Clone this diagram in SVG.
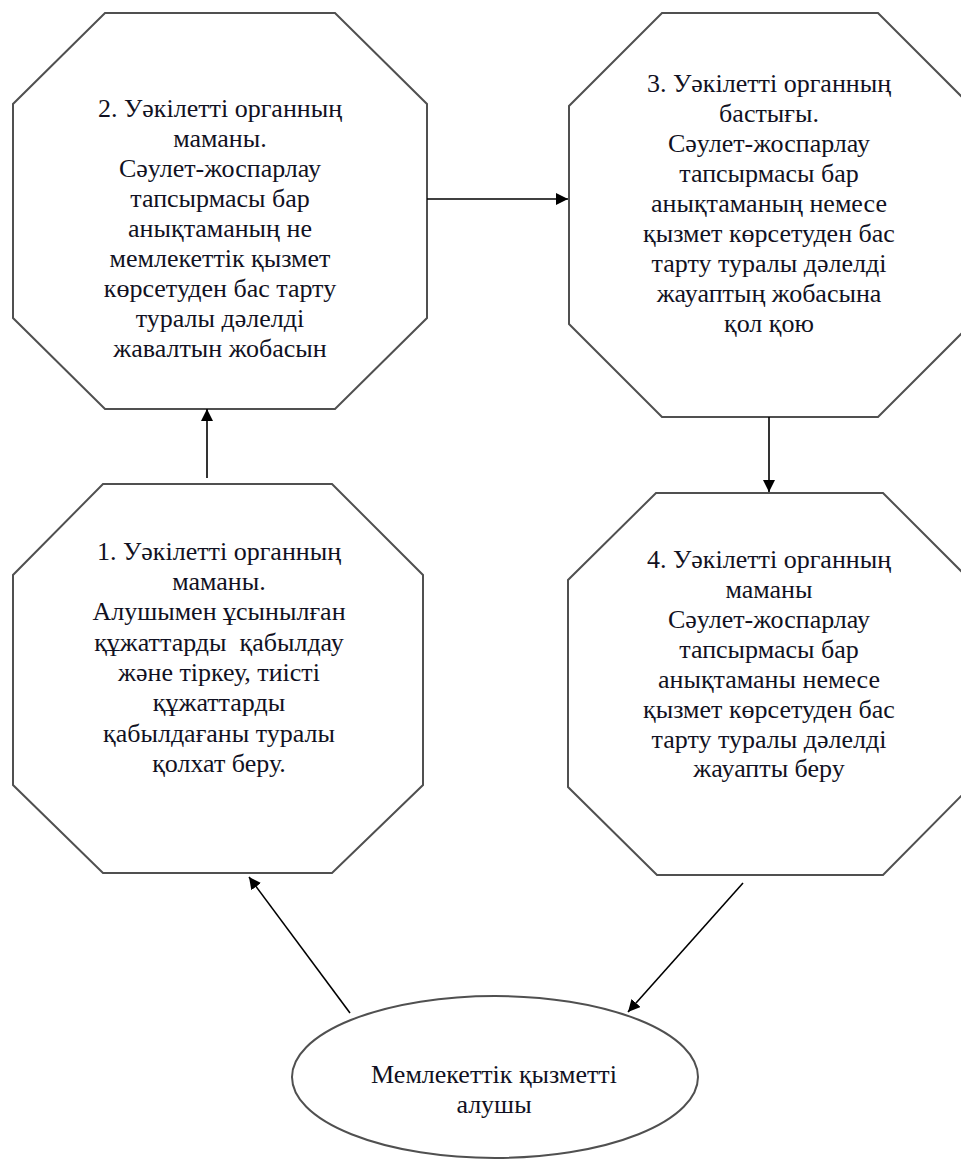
<svg xmlns="http://www.w3.org/2000/svg" width="961" height="1163" viewBox="0 0 961 1163">
  <style>
    .shape { fill: #ffffff; stroke: #505050; stroke-width: 2; }
    .lbl { font-family: 'Liberation Serif', 'DejaVu Serif', serif; font-size: 26px; fill: #111122; text-anchor: middle; }
    .conn { stroke: #000000; stroke-width: 1.6; fill: none; marker-end: url(#arrow); }
  </style>
  <defs>
    <marker id="arrow" markerUnits="userSpaceOnUse" markerWidth="12" markerHeight="12" refX="12" refY="6" orient="auto">
      <path d="M0,0 L12,6 L0,12 z" fill="#000000"/>
    </marker>
  </defs>
  <rect width="961" height="1163" fill="#ffffff"/>

  <g id="node2">
    <polygon class="shape" points="105,13 335,13 427,104 427,318 335,409 105,409 13,318 13,104"/>
    <text class="lbl" x="220" y="117">2. Уәкілетті органның</text>
    <text class="lbl" x="220" y="147">маманы.</text>
    <text class="lbl" x="220" y="177">Сәулет-жоспарлау</text>
    <text class="lbl" x="220" y="207">тапсырмасы бар</text>
    <text class="lbl" x="220" y="237">анықтаманың не</text>
    <text class="lbl" x="220" y="267">мемлекеттік қызмет</text>
    <text class="lbl" x="220" y="297">көрсетуден бас тарту</text>
    <text class="lbl" x="220" y="327">туралы дәлелді</text>
    <text class="lbl" x="220" y="357">жавалтын жобасын</text>
  </g>

  <g id="node3">
    <polygon class="shape" points="662,13 878,13 971,106 971,324 878,417 662,417 569,324 569,106"/>
    <text class="lbl" x="769" y="92">3. Уәкілетті органның</text>
    <text class="lbl" x="769" y="122">бастығы.</text>
    <text class="lbl" x="769" y="152">Сәулет-жоспарлау</text>
    <text class="lbl" x="769" y="182">тапсырмасы бар</text>
    <text class="lbl" x="769" y="212">анықтаманың немесе</text>
    <text class="lbl" x="769" y="242">қызмет көрсетуден бас</text>
    <text class="lbl" x="769" y="272">тарту туралы дәлелді</text>
    <text class="lbl" x="769" y="302">жауаптың жобасына</text>
    <text class="lbl" x="769" y="332">қол қою</text>
  </g>

  <g id="node1">
    <polygon class="shape" points="103,484 332,484 423,575 423,785 332,873 103,873 13,785 13,575"/>
    <text class="lbl" x="219" y="560">1. Уәкілетті органның</text>
    <text class="lbl" x="219" y="590">маманы.</text>
    <text class="lbl" x="219" y="620">Алушымен ұсынылған</text>
    <text class="lbl" x="219" y="651" xml:space="preserve">құжаттарды  қабылдау</text>
    <text class="lbl" x="219" y="681">және тіркеу, тиісті</text>
    <text class="lbl" x="219" y="711">құжаттарды</text>
    <text class="lbl" x="219" y="742">қабылдағаны туралы</text>
    <text class="lbl" x="219" y="772">қолхат беру.</text>
  </g>

  <g id="node4">
    <polygon class="shape" points="656,493 883,493 970,580 970,787 883,875 657,875 568,787 568,580"/>
    <text class="lbl" x="769" y="568">4. Уәкілетті органның</text>
    <text class="lbl" x="769" y="598">маманы</text>
    <text class="lbl" x="769" y="628">Сәулет-жоспарлау</text>
    <text class="lbl" x="769" y="658">тапсырмасы бар</text>
    <text class="lbl" x="769" y="688">анықтаманы немесе</text>
    <text class="lbl" x="769" y="718">қызмет көрсетуден бас</text>
    <text class="lbl" x="769" y="748">тарту туралы дәлелді</text>
    <text class="lbl" x="769" y="777">жауапты беру</text>
  </g>

  <g id="node5">
    <ellipse class="shape" cx="495" cy="1077" rx="203" ry="81"/>
    <text class="lbl" x="494" y="1083">Мемлекеттік қызметті</text>
    <text class="lbl" x="494" y="1113">алушы</text>
  </g>

  <g id="connectors">
    <line class="conn" x1="207" y1="478" x2="207" y2="409"/>
    <line class="conn" x1="427" y1="199" x2="568" y2="199"/>
    <line class="conn" x1="769" y1="417" x2="769" y2="492"/>
    <line class="conn" x1="350" y1="1013" x2="249" y2="877"/>
    <line class="conn" x1="743" y1="883" x2="628" y2="1012"/>
  </g>
</svg>
